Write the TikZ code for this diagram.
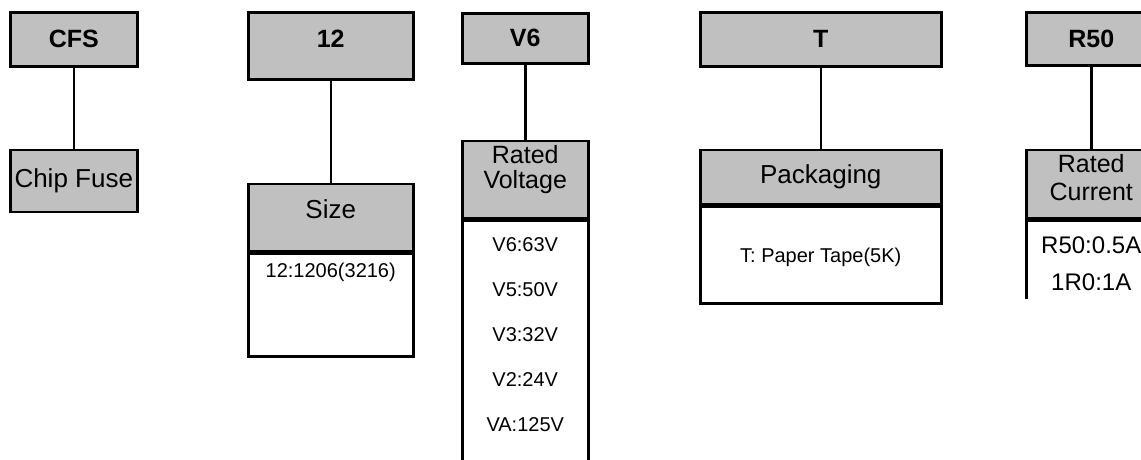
\documentclass[tikz,border=0pt]{standalone}
\usepackage{fontspec}
\setmainfont{Liberation Sans}
\usepackage{xcolor}
\usetikzlibrary{positioning}
\definecolor{boxgray}{HTML}{C0C0C0}
\tikzstyle{code} = [rectangle, draw=black, line width=2.5pt, fill=boxgray, inner sep=0pt, font=\fontsize{25}{28}\selectfont\bfseries]
\tikzstyle{head} = [rectangle, draw=black, line width=2.5pt, fill=boxgray, inner sep=0pt, align=center, font=\fontsize{26}{27}\selectfont]
\tikzstyle{valbox} = [rectangle, draw=black, line width=2.5pt, fill=white, inner sep=0pt]
\tikzstyle{val} = [inner sep=0pt, font=\fontsize{20}{24}\selectfont]
\tikzstyle{bigval} = [inner sep=0pt, font=\fontsize{24}{28}\selectfont]
\tikzstyle{link} = [line width=2.5pt, -]

\begin{document}
\begin{tikzpicture}[x=1pt, y=-1pt]
\useasboundingbox (0,0) rectangle (1141,459);
\clip (0,0) rectangle (1141,459);

% part number codes
\node (cfs) [code, minimum width=127pt, minimum height=54pt, anchor=north west] at (9,11) {CFS};
\node (twelve) [code, minimum width=165pt, minimum height=67pt, text depth=14pt, anchor=north west] at (247,11) {12};
\node (v6) [code, minimum width=126pt, minimum height=50pt, anchor=north west] at (461,12) {V6};
\node (t) [code, minimum width=241pt, minimum height=54pt, anchor=north west] at (699,11) {T};
\node (r50) [code, minimum width=130pt, minimum height=53pt, anchor=north west] at (1025,11) {R50};

% descriptions
\node (chip) [head, minimum width=127pt, minimum height=62pt, below=81pt of cfs] {Chip Fuse};

\node (size) [head, minimum width=165pt, minimum height=67pt, text depth=16pt, below=102pt of twelve] {Size};
\node (size-val) [valbox, minimum width=165pt, minimum height=103pt, below=0pt of size] {};
\node [val] at ([yshift=-20pt]size-val.north) {12:1206(3216)};

\node (volt) [head, minimum width=126pt, minimum height=77pt, below=75pt of v6] {};
\node [head, draw=none, fill=none, font=\fontsize{25}{25}\selectfont, below=5pt of volt.north] {Rated\\Voltage};
\node (volt-val) [valbox, minimum width=126pt, minimum height=300pt, below=0pt of volt] {};
\foreach \v [count=\i] in {V6:63V, V5:50V, V3:32V, V2:24V, VA:125V}
  \node [val] at ([yshift={-(26pt+(\i-1)*45pt)}]volt-val.north) {\v};

\node (pack) [head, minimum width=241pt, minimum height=54pt, below=81pt of t] {Packaging};
\node (pack-val) [valbox, minimum width=241pt, minimum height=97pt, below=0pt of pack] {};
\node [val] at ([yshift=-3pt]pack-val.center) {T: Paper Tape(5K)};

\node (cur) [head, minimum width=130pt, minimum height=68pt, below=82pt of r50] {};
\node [head, draw=none, fill=none, font=\fontsize{25}{28}\selectfont, below=5pt of cur.north] {Rated\\Current};
\begin{scope}
\clip (1000,200) rectangle (1141,298);
\node (cur-val) [valbox, minimum width=130pt, minimum height=200pt, below=0pt of cur] {};
\end{scope}
\node [bigval] at ([yshift=-26pt]cur-val.north) {R50:0.5A};
\node [bigval] at ([yshift=-63pt]cur-val.north) {1R0:1A};

% links
\draw [link] (cfs) -- (chip);
\draw [link] (twelve) -- (size);
\draw [link] (v6) -- (volt);
\draw [link] (t) -- (pack);
\draw [link] (r50) -- (cur);

\end{tikzpicture}
\end{document}
